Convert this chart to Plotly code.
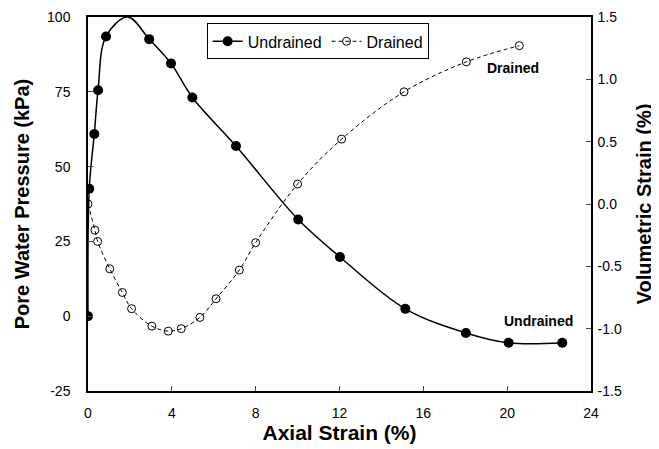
import plotly.graph_objects as go

# Undrained: pore water pressure (kPa) vs axial strain (%) -- measured points (markers)
und_strain = [0.0, 0.06, 0.30, 0.48, 0.86, 2.92, 3.96, 4.98, 7.06, 10.03, 12.02, 15.14, 18.03, 20.07, 22.63]
und_pwp = [0.0, 42.6, 60.9, 75.5, 93.5, 92.6, 84.5, 73.1, 56.9, 32.3, 19.8, 2.45, -5.6, -8.9, -8.9]

# Undrained smoothed curve as drawn (passes through the markers and peaks at ~100 kPa near 1.9 %)
und_curve_strain = [0.0, 0.06, 0.30, 0.48, 0.86, 1.9, 2.92, 3.96, 4.98, 7.06, 10.03, 12.02, 15.14, 18.03, 20.07, 22.63]
und_curve_pwp = [0.0, 42.6, 60.9, 75.5, 93.5, 100.0, 92.6, 84.5, 73.1, 56.9, 32.3, 19.8, 2.45, -5.6, -8.9, -8.9]

# Drained: volumetric strain (%) vs axial strain (%)
dr_strain = [0.0, 0.33, 0.46, 1.04, 1.64, 2.08, 3.05, 3.83, 4.45, 5.34, 6.11, 7.22, 8.0, 10.0, 12.10, 15.08, 18.05, 20.58]
dr_vol = [0.0, -0.21, -0.30, -0.52, -0.71, -0.84, -0.98, -1.02, -1.00, -0.91, -0.76, -0.53, -0.31, 0.16, 0.52, 0.90, 1.14, 1.27]

x_ticks = [0, 4, 8, 12, 16, 20, 24]
y_ticks = [-25, 0, 25, 50, 75, 100]
y_labels = ["-25", "0", "25", "50", "75", "100"]
y2_ticks = [-1.5, -1.0, -0.5, 0.0, 0.5, 1.0, 1.5]
y2_labels = ["-1.5", "-1.0", "-0.5", "0.0", "0.5", "1.0", "1.5"]

FONT = "Liberation Sans, Arial, sans-serif"
UND_LINE = dict(color="black", width=1.5)
UND_MARK = dict(symbol="circle", size=10, color="black")

fig = go.Figure()
# undrained curve (no legend)
fig.add_trace(go.Scatter(
    x=und_curve_strain, y=und_curve_pwp, mode="lines", showlegend=False, hoverinfo="skip",
    line=dict(**UND_LINE, shape="spline", smoothing=1.0),
))
# undrained markers (no legend)
fig.add_trace(go.Scatter(
    x=und_strain, y=und_pwp, mode="markers", showlegend=False, name="Undrained",
    marker=UND_MARK,
))
# legend entry for undrained
fig.add_trace(go.Scatter(
    x=[None], y=[None], mode="lines+markers", name="Undrained",
    line=UND_LINE, marker=UND_MARK,
))
fig.add_trace(go.Scatter(
    x=dr_strain, y=dr_vol, name="Drained", mode="lines+markers", yaxis="y2",
    line=dict(color="black", width=1, dash="4px,3px", shape="spline", smoothing=1.0),
    marker=dict(symbol="circle-open", size=8, color="black", line=dict(width=1)),
))

fig.add_annotation(x=20.3, y=82.9, text="<b>Drained</b>", showarrow=False,
                   font=dict(family=FONT, size=14, color="black"))
fig.add_annotation(x=21.5, y=-1.7, text="<b>Undrained</b>", showarrow=False,
                   font=dict(family=FONT, size=14, color="black"))

fig.update_layout(
    width=659, height=449,
    margin=dict(l=80, r=76, t=9, b=66),
    paper_bgcolor="white", plot_bgcolor="white",
    font=dict(family=FONT, size=14, color="black"),
    showlegend=True,
    legend=dict(x=0.236, y=0.983, xanchor="left", yanchor="top", orientation="h",
                bordercolor="black", borderwidth=1, bgcolor="white",
                font=dict(family=FONT, size=16, color="black")),
    xaxis=dict(range=[0, 24], tickvals=x_ticks, ticks="inside", ticklen=5,
               showline=True, linecolor="black", linewidth=1.5, mirror=True,
               showgrid=False, zeroline=False, automargin=False, ticklabelstandoff=8,
               title=dict(text="<b>Axial Strain (%)</b>", font=dict(size=21), standoff=2)),
    yaxis=dict(range=[-25, 100], tickvals=y_ticks, ticktext=y_labels, ticks="inside", ticklen=5,
               showline=True, linecolor="black", linewidth=1.5,
               showgrid=False, zeroline=False, automargin=False, ticklabelstandoff=13,
               title=dict(text="<b>Pore Water Pressure (kPa)</b>", font=dict(size=20), standoff=12)),
    yaxis2=dict(range=[-1.5, 1.5], tickvals=y2_ticks, ticktext=y2_labels, ticks="inside", ticklen=5,
                overlaying="y", side="right",
                showline=True, linecolor="black", linewidth=1.5,
                showgrid=False, zeroline=False, automargin=False, ticklabelstandoff=2,
                title=dict(text="<b>Volumetric Strain (%)</b>", font=dict(size=20), standoff=16)),
)

fig.write_html("out.html")
